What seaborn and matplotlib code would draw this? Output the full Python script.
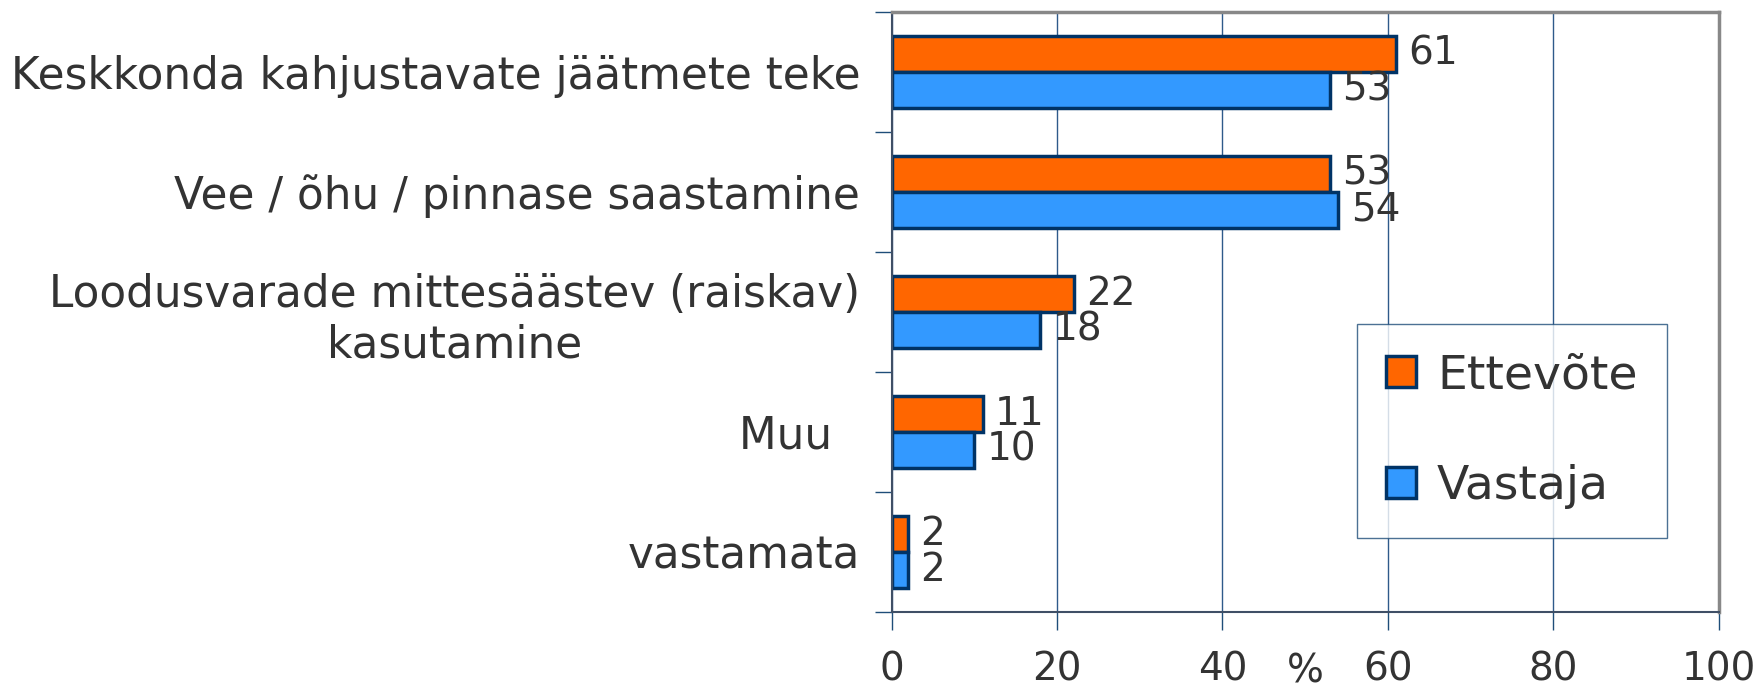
import matplotlib
matplotlib.use('Agg')
import matplotlib.pyplot as plt
import seaborn as sns
import pandas as pd
from matplotlib.ticker import FixedLocator

# data
categories = ['Keskkonda kahjustavate jäätmete teke',
              'Vee / õhu / pinnase saastamine',
              'Loodusvarade mittesäästev (raiskav)\nkasutamine',
              'Muu  ',
              'vastamata']
ettevote = [61, 53, 22, 11, 2]
vastaja = [53, 54, 18, 10, 2]
series = ['Ettevõte', 'Vastaja']
colors = ['#FF6600', '#3399FF']
xticks = [0, 20, 40, 60, 80, 100]

df = pd.DataFrame({
    'kategooria': categories * 2,
    'väärtus': ettevote + vastaja,
    'seeria': [series[0]] * len(categories) + [series[1]] * len(categories),
})

sns.set_style('white')
plt.rcParams['font.family'] = ['DejaVu Sans']
text_col = '#333333'

fig = plt.figure(figsize=(17.62, 6.89), dpi=100)
ax = fig.add_axes([0.506, 0.112, 0.4694, 0.871])

sns.barplot(data=df, y='kategooria', x='väärtus', hue='seeria', orient='h',
            palette=colors, width=0.6, edgecolor='#003366', linewidth=2.5,
            saturation=1, ax=ax)

for cont in ax.containers:
    ax.bar_label(cont, padding=9, fontsize=28, color=text_col)

ax.set_xlim(0, 100)
ax.set_ylim(len(categories) - 0.5, -0.5)
ax.set_xticks(xticks)
ax.set_xticklabels([str(t) for t in xticks], fontsize=28, color=text_col)
ax.tick_params(axis='x', bottom=True, length=13, width=1, color='#1F4E79', pad=15)
ax.set_xlabel('%', fontsize=28, color=text_col)
ax.xaxis.set_label_coords(0.5, -0.068)
ax.set_ylabel('')

ax.tick_params(axis='y', left=False, pad=19, labelsize=31.5, labelcolor=text_col)
for lab in ax.get_yticklabels():
    lab.set_multialignment('center')
ax.yaxis.set_minor_locator(FixedLocator([i - 0.5 for i in range(len(categories) + 1)]))
ax.tick_params(axis='y', which='minor', left=True, length=12, width=1, color='#1F4E79')

ax.grid(axis='x', color='#2F5A8A', linewidth=1)
ax.set_axisbelow(True)
for side in ['top', 'right']:
    ax.spines[side].set_color('#888888')
    ax.spines[side].set_linewidth(2.5)
for side in ['left', 'bottom']:
    ax.spines[side].set_color('#3F4F66')
    ax.spines[side].set_linewidth(1.5)

leg = ax.legend(loc='upper left', bbox_to_anchor=(0.563, 0.48), fontsize=34,
                frameon=True, fancybox=False, borderpad=0.62, borderaxespad=0,
                labelspacing=1.4, handlelength=0.62, handleheight=0.62,
                handletextpad=0.45, labelcolor=text_col)
leg.get_frame().set_edgecolor('#1F4E79')
leg.get_frame().set_linewidth(1)

fig.savefig('out.png', dpi=100)
